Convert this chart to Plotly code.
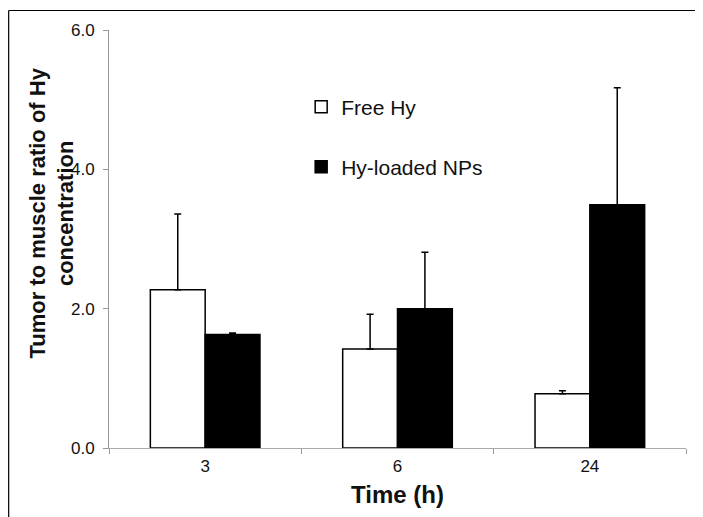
import plotly.graph_objects as go

times = ["3", "6", "24"]
free_hy = [2.27, 1.42, 0.78]
free_hy_err = [1.09, 0.50, 0.04]
nps = [1.63, 2.00, 3.49]
nps_err = [0.02, 0.81, 1.68]
y_ticks = [0, 2, 4, 6]
y_tick_text = ["0.0", "2.0", "4.0", "6.0"]

W, H = 703, 517
OFF = 8  # page offset of the figure (body margin)
# plot area in page pixels
PX0, PX1, PY0, PY1 = 108.5, 686.5, 30, 448
L = PX0 - OFF
T = PY0 - OFF
R = W - (PX1 - OFF)
B = H - (PY1 - OFF)
FONT = "Liberation Sans, Arial, sans-serif"

pw = PX1 - PX0
ph = PY1 - PY0
def px_x(x):
    return (x - PX0) / pw
def px_y(y):
    return (PY1 - y) / ph

fig = go.Figure()
fig.add_trace(go.Bar(
    name="Free Hy", x=times, y=free_hy, showlegend=True,
    marker=dict(color="white", line=dict(color="black", width=1.5)),
    error_y=dict(type="data", array=free_hy_err, arrayminus=[0]*3, symmetric=False,
                 color="black", thickness=1.5, width=3.5),
    legend="legend",
))
fig.add_trace(go.Bar(
    name="Hy-loaded NPs", x=times, y=nps, showlegend=True,
    marker=dict(color="black", line=dict(color="black", width=1.5)),
    error_y=dict(type="data", array=nps_err, arrayminus=[0]*3, symmetric=False,
                 color="black", thickness=1.5, width=3.5),
    legend="legend2",
))

leg_common = dict(xanchor="left", yanchor="middle", itemwidth=30,
                  font=dict(size=21, family=FONT, color="#111"),
                  bgcolor="rgba(0,0,0,0)", borderwidth=0)

fig.update_layout(
    width=W, height=H,
    margin=dict(l=L, r=R, t=T, b=B, pad=0, autoexpand=False),
    paper_bgcolor="white", plot_bgcolor="white",
    barmode="group", bargap=0.43, bargroupgap=0,
    font=dict(family=FONT, color="#111"),
    showlegend=True,
    legend=dict(x=px_x(301), y=px_y(107), **leg_common),
    legend2=dict(x=px_x(301), y=px_y(167), **leg_common),
    xaxis=dict(type="category", tickson="boundaries", showline=True, linecolor="#aaa",
               linewidth=1, ticks="outside", ticklen=5, tickcolor="#999",
               tickfont=dict(size=17, family=FONT, color="#111"), showgrid=False,
               ticklabelstandoff=3),
    yaxis=dict(range=[0, 6], tickvals=y_ticks, ticktext=y_tick_text, showline=True,
               linecolor="#999", linewidth=1, ticks="outside", ticklen=5, tickcolor="#999",
               tickfont=dict(size=17, family=FONT, color="#111"), showgrid=False,
               zeroline=False, ticklabelstandoff=5),
    annotations=[
        dict(text="<b>Tumor to muscle ratio of Hy<br>concentration</b>", textangle=-90,
             xref="paper", yref="paper", x=px_x(51), y=px_y(213),
             xanchor="center", yanchor="middle", showarrow=False,
             font=dict(size=22, family=FONT, color="#111")),
        dict(text="<b>Time (h)</b>", xref="paper", yref="paper",
             x=px_x(398), y=px_y(494), xanchor="center", yanchor="middle",
             showarrow=False, font=dict(size=24, family=FONT, color="#111")),
    ],
    shapes=[
        dict(type="line", xref="paper", yref="paper", x0=px_x(8), x1=px_x(W + 20),
             y0=px_y(10.5), y1=px_y(10.5), line=dict(color="black", width=1.2)),
        dict(type="line", xref="paper", yref="paper", x0=px_x(8), x1=px_x(8),
             y0=px_y(10.5), y1=px_y(H + 20), line=dict(color="black", width=1.2)),
    ],
)

fig.write_html("out.html")
